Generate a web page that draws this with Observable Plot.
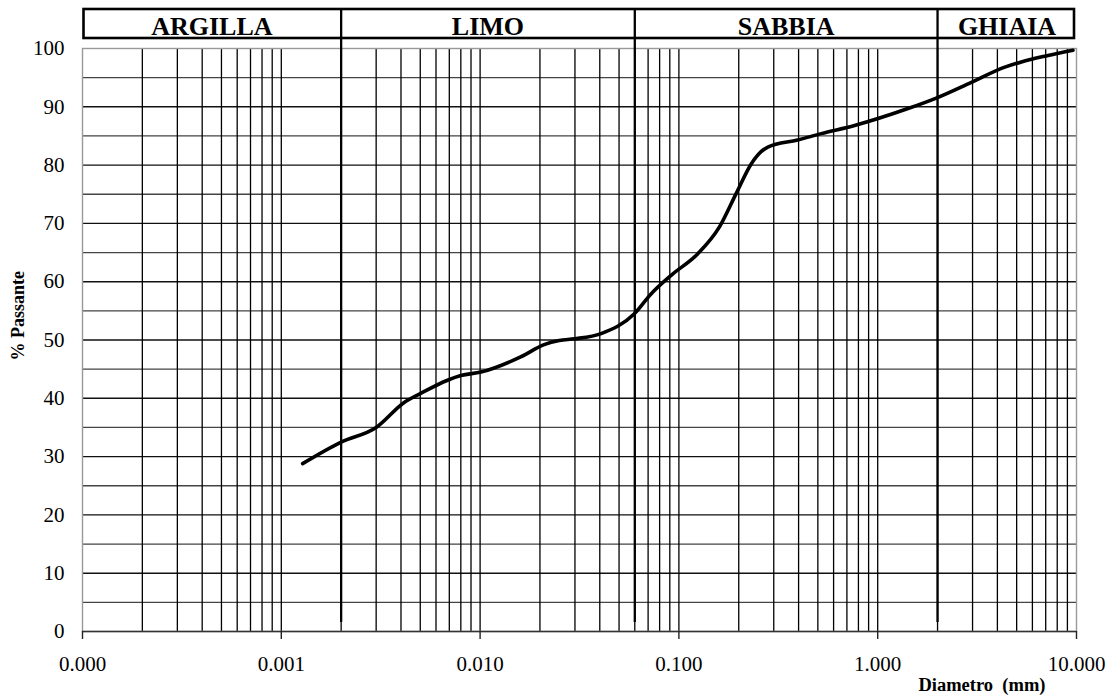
<!DOCTYPE html>
<html>
<head>
<meta charset="utf-8">
<script src="https://cdn.jsdelivr.net/npm/d3@7"></script>
<script src="https://cdn.jsdelivr.net/npm/@observablehq/plot@0.6"></script>
<style>
  html, body { margin: 0; padding: 0; background: #fff; }
  #chart { width: 1114px; height: 695px; }
</style>
</head>
<body>
<div id="chart"></div>
<script>
// Grain-size distribution curve (diameter in mm, % passing)
const diameter = [0.00128, 0.002, 0.003, 0.00415, 0.005, 0.00686, 0.008, 0.0101, 0.016, 0.021,
                  0.025, 0.0298, 0.0406, 0.0597, 0.0724, 0.0914, 0.1245, 0.160, 0.194, 0.231, 0.280,
                  0.396, 0.52, 0.765, 1.42, 1.97, 2.96, 4.36, 5.28, 7.2, 9.6];
const passing  = [28.8, 32.5, 35.0, 39.3, 40.8, 43.1, 43.9, 44.5, 47.1, 49.2,
                  49.9, 50.2, 51.1, 54.5, 57.9, 61.1, 64.8, 69.4, 75.1, 80.2, 83.1,
                  84.3, 85.4, 86.8, 89.7, 91.5, 94.2, 96.8, 97.7, 98.8, 99.7];

// Soil classes and their diameter limits (mm)
const classNames = ["ARGILLA", "LIMO", "SABBIA", "GHIAIA"];
const classLow   = [0.0001, 0.002, 0.06, 2];
const classHigh  = [0.002, 0.06, 2, 10];
const classLimits = [0.002, 0.06, 2];

// Axis ticks and labels
const xTicks = [0.0001, 0.001, 0.01, 0.1, 1, 10];
const xTickLabels = ["0.000", "0.001", "0.010", "0.100", "1.000", "10.000"];
const yTicks = [0, 10, 20, 30, 40, 50, 60, 70, 80, 90, 100];
const yMajorGrid = [10, 20, 30, 40, 50, 60, 70, 80, 90];
const yMinorGrid = [5, 15, 25, 35, 45, 55, 65, 75, 85, 95];
const decades = [0.0001, 0.001, 0.01, 0.1, 1];
const mantissas = [1, 2, 3, 4, 5, 6, 7, 8, 9];

const xGrid = decades.flatMap(d => mantissas.map(m => +(d * m).toPrecision(3))).filter(v => v > 0.0001);
const curve = diameter.map((d, i) => ({d, p: passing[i]}));
const classes = classNames.map((name, i) => ({name, lo: classLow[i], hi: classHigh[i], mid: Math.sqrt(classLow[i] * classHigh[i])}));
const xLabelMap = new Map(xTicks.map((t, i) => [t, xTickLabels[i]]));

const serif = "'Liberation Serif', 'Times New Roman', Times, serif";

const chart = Plot.plot({
  width: 1114,
  height: 695,
  marginLeft: 82,
  marginRight: 38,
  marginTop: 48,
  marginBottom: 64,
  style: {fontFamily: serif, background: "#fff", color: "#000"},
  x: {type: "log", domain: [0.0001, 10]},
  y: {domain: [0, 100]},
  marks: [
    // grid
    Plot.ruleY(yMinorGrid, {stroke: "#444", strokeWidth: 1.3}),
    Plot.ruleY(yMajorGrid, {stroke: "#111", strokeWidth: 1.4}),
    Plot.ruleX(xGrid, {stroke: "#000", strokeWidth: 1.3}),
    Plot.frame({stroke: "#999", strokeWidth: 1.4}),
    Plot.ruleY([0], {stroke: "#333", strokeWidth: 1.6}),
    // axes
    Plot.axisY({ticks: yTicks, tickSize: 0, tickPadding: 18, fontSize: 21, label: null}),
    Plot.axisX({ticks: xTicks, tickSize: 8, tickPadding: 17, fontSize: 21, label: null,
                tickFormat: d => xLabelMap.get(d), stroke: "#222", strokeWidth: 1.4}),
    // class header box
    Plot.rect([{lo: classLow[0], hi: classHigh[classHigh.length - 1]}], {
      x1: "lo", x2: "hi", y1: 100, y2: 100,
      insetTop: -39, insetBottom: 10, insetLeft: 1.5, insetRight: 2,
      fill: "none", stroke: "#000", strokeWidth: 2.6
    }),
    // class limits
    Plot.ruleX(classLimits, {stroke: "#000", strokeWidth: 2.3, insetTop: -39, insetBottom: 9}),
    Plot.text(classes, {
      x: "mid", y: 100, text: "name", dy: -22, lineAnchor: "middle",
      fontSize: 26, fontWeight: "bold", fill: "#000"
    }),
    // curve
    Plot.line(curve, {x: "d", y: "p", stroke: "#000", strokeWidth: 3.6, curve: "monotone-x",
                      strokeLinecap: "round", strokeLinejoin: "round"}),
    // axis titles
    Plot.text(["% Passante"], {frameAnchor: "left", rotate: -90, dx: -64.5, dy: 20.5,
                                fontSize: 18, fontWeight: "bold", fill: "#000"}),
    Plot.text(["Diametro\u00a0 (mm)"], {frameAnchor: "bottom-right", textAnchor: "end", lineAnchor: "middle",
                                dx: -31, dy: 54, fontSize: 18.5, fontWeight: "bold", fill: "#000"})
  ]
});

document.getElementById("chart").appendChild(chart);
</script>
</body>
</html>
